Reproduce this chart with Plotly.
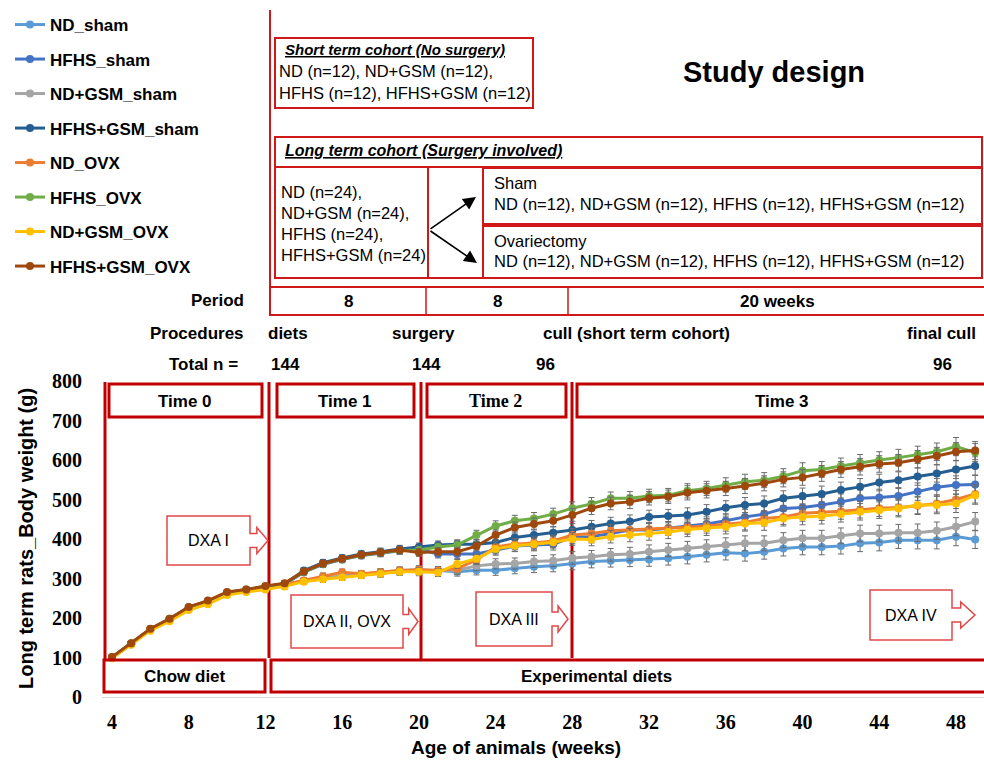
import plotly.graph_objects as go

# the page body margin is removed (post_script) so figure pixels = window pixels
W, H = 984, 764


def PX(x):
    return x / W


def PY(y):
    return 1 - y / H


# ---------------- data ----------------
weeks = list(range(4, 50))

nd_sham = [100, 134, 170, 196, 224, 240, 262, 269, 276, 284, 293, 300, 305, 309, 313, 318, 320,
           320, 317, 321, 321, 326, 330, 332, 338, 343, 345, 347, 348, 351, 355, 360, 365, 363, 368,
           376, 380, 380, 382, 389, 391, 397, 397, 397, 406, 399]
hfhs_sham = [100, 135, 171, 196, 225, 241, 263, 270, 278, 285, 316, 336, 348, 358, 364, 370, 374,
             362, 362, 362, 372, 382, 385, 387, 404, 406, 414, 423, 423, 427, 433, 438, 446, 456, 463,
             477, 480, 486, 494, 503, 505, 509, 520, 531, 537, 538]
ndgsm_sham = [99, 133, 170, 195, 223, 239, 261, 268, 276, 284, 294, 301, 306, 311, 315, 320, 322,
              320, 321, 332, 337, 338, 343, 345, 352, 355, 360, 362, 368, 372, 376, 380, 385, 389, 389,
              397, 402, 402, 408, 414, 414, 416, 416, 421, 431, 444]
hfhsgsm_sham = [100, 135, 172, 197, 226, 242, 264, 271, 279, 286, 320, 340, 352, 362, 368, 375, 380,
                385, 387, 387, 391, 404, 410, 416, 423, 431, 439, 444, 456, 458, 461, 469, 479, 486, 490,
                503, 509, 514, 524, 532, 543, 549, 558, 566, 576, 585]
nd_ovx = [100, 134, 171, 194, 223, 240, 262, 269, 277, 285, 295, 306, 316, 312, 316, 320, 322,
          320, 325, 347, 380, 387, 390, 395, 410, 414, 421, 423, 425, 427, 430, 433, 438, 442, 452,
          456, 465, 467, 470, 474, 478, 480, 484, 490, 500, 514]
hfhs_ovx = [100, 136, 172, 198, 227, 243, 265, 272, 280, 287, 317, 337, 349, 359, 365, 371, 372,
            380, 385, 410, 433, 446, 452, 463, 478, 489, 503, 503, 509, 511, 522, 528, 537, 545, 549,
            559, 573, 576, 585, 593, 600, 606, 613, 621, 634, 619]
ndgsm_ovx = [98, 132, 168, 192, 220, 235, 258, 266, 272, 280, 292, 298, 303, 308, 312, 317, 317,
             315, 337, 350, 375, 383, 387, 392, 400, 399, 406, 410, 414, 418, 424, 427, 431, 439, 441,
             452, 456, 458, 463, 469, 473, 477, 486, 486, 490, 511]
hfhsgsm_ovx = [101, 136, 173, 198, 228, 244, 266, 272, 281, 288, 318, 338, 350, 360, 366, 372, 366,
               368, 368, 382, 410, 429, 438, 446, 461, 478, 490, 494, 503, 507, 517, 522, 528, 534, 541,
               551, 556, 566, 576, 583, 590, 593, 602, 610, 621, 624]

sem = [3, 4, 4, 5, 5, 5, 6, 6, 6,
       7, 7, 8, 8, 8, 9, 9, 10,
       10, 11, 12, 13, 14, 15, 15, 16,
       16, 16, 17, 17, 17, 18, 18, 18, 19, 19, 19, 20, 20, 20, 21, 21, 21, 22, 22, 23, 23]

series_names = ["ND_sham", "HFHS_sham", "ND+GSM_sham", "HFHS+GSM_sham",
                "ND_OVX", "HFHS_OVX", "ND+GSM_OVX", "HFHS+GSM_OVX"]
series_values = [nd_sham, hfhs_sham, ndgsm_sham, hfhsgsm_sham,
                 nd_ovx, hfhs_ovx, ndgsm_ovx, hfhsgsm_ovx]
series_colors = ["#5B9BD5", "#4472C4", "#A5A5A5", "#255E91",
                 "#ED7D31", "#70AD47", "#FFC000", "#9E480E"]

x_ticks = [4, 8, 12, 16, 20, 24, 28, 32, 36, 40, 44, 48]

# ---------------- figure ----------------
fig = go.Figure()
for name, vals, col in zip(series_names, series_values, series_colors):
    fig.add_trace(go.Scatter(
        x=weeks, y=vals, mode="lines+markers", name=name, legendgroup=name,
        line=dict(color=col, width=3),
        marker=dict(color=col, size=8),
        error_y=dict(type="data", array=sem, color="#6b6b6b", thickness=1, width=3),
    ))

SANS = "Liberation Sans, Arial, sans-serif"
SERIF = "Liberation Serif, Times New Roman, serif"
RED = "#C00000"
RED2 = "#D01818"
RED3 = "#E04848"

shapes = []
annots = []


def rect(x0, y0, x1, y1, color=RED, width=3, layer="above"):
    shapes.append(dict(type="rect", xref="paper", yref="paper",
                       x0=PX(x0), x1=PX(x1), y0=PY(y0), y1=PY(y1),
                       line=dict(color=color, width=width),
                       fillcolor="rgba(0,0,0,0)", layer=layer))


def hline(x0, x1, y, color=RED, width=3, layer="above"):
    shapes.append(dict(type="line", xref="paper", yref="paper",
                       x0=PX(x0), x1=PX(x1), y0=PY(y), y1=PY(y),
                       line=dict(color=color, width=width), layer=layer))


def vline(x, y0, y1, color=RED, width=3, layer="above"):
    shapes.append(dict(type="line", xref="paper", yref="paper",
                       x0=PX(x), x1=PX(x), y0=PY(y0), y1=PY(y1),
                       line=dict(color=color, width=width), layer=layer))


def text(x, y, s, size=16, family=SANS, xanchor="center", color="black", angle=0):
    annots.append(dict(x=PX(x), y=PY(y), xref="paper", yref="paper", text=s,
                       showarrow=False, xanchor=xanchor, yanchor="middle",
                       textangle=angle,
                       font=dict(family=family, size=size, color=color)))


def callout(x0, y0, x1, y1, tip, label):
    ym = (y0 + y1) / 2
    sh, hh = 7, 13
    se = x1 + (tip - x1) * 0.38
    pts = [(x0, y0), (x1, y0), (x1, ym - sh), (se, ym - sh), (se, ym - hh), (tip, ym),
           (se, ym + hh), (se, ym + sh), (x1, ym + sh), (x1, y1), (x0, y1)]
    path = "M " + " L ".join(f"{PX(a):.5f},{PY(b):.5f}" for a, b in pts) + " Z"
    shapes.append(dict(type="path", xref="paper", yref="paper", path=path,
                       line=dict(color=RED3, width=1.5), fillcolor="white", layer="above"))
    text((x0 + x1) / 2, ym, label, size=16)


# ---- study design diagram ----
vline(270, 10, 287, color=RED2, width=2)
rect(275, 38, 533, 108, color=RED2, width=2)
text(283, 49, "<b><i><u>Short term cohort (No surgery)</u></i></b>", size=15, xanchor="left")
text(277, 71, "ND (n=12), ND+GSM (n=12),", size=16.5, xanchor="left")
text(277, 93, "HFHS (n=12), HFHS+GSM (n=12)", size=16.5, xanchor="left")
text(774, 72, "<b>Study design</b>", size=29)

rect(275, 137, 982, 278, color=RED2, width=2)
hline(275, 982, 167, color=RED2, width=2)
text(283, 150, "<b><i><u>Long term cohort (Surgery involved)</u></i></b>", size=16, xanchor="left")
rect(275, 167, 428, 278, color=RED2, width=2)
for i, s in enumerate(["ND (n=24),", "ND+GSM (n=24),", "HFHS (n=24),", "HFHS+GSM (n=24)"]):
    text(279, 192 + 21 * i, s, size=16.5, xanchor="left")
rect(483, 168, 982, 224, color=RED2, width=2)
rect(483, 226, 982, 278, color=RED2, width=2)
text(492, 183, "Sham", size=16.5, xanchor="left")
text(492, 204, "ND (n=12), ND+GSM (n=12), HFHS (n=12), HFHS+GSM (n=12)", size=16.5, xanchor="left")
text(492, 241, "Ovariectomy", size=16.5, xanchor="left")
text(492, 261, "ND (n=12), ND+GSM (n=12), HFHS (n=12), HFHS+GSM (n=12)", size=16.5, xanchor="left")
for hx, hy in [(476, 197), (477, 263)]:
    annots.append(dict(x=PX(hx), y=PY(hy), xref="paper", yref="paper", text="",
                       showarrow=True, ax=429 - hx, ay=230 - hy, axref="pixel", ayref="pixel",
                       arrowhead=2, arrowsize=1.6, arrowwidth=1.6, arrowcolor="black"))

# period row
rect(270, 287, 986, 315, color=RED2, width=2)
vline(426, 287, 315, color=RED2, width=1.5)
vline(568, 287, 315, color=RED2, width=1.5)
text(246, 300, "<b>Period</b>", size=17, xanchor="right")
text(348, 301, "<b>8</b>", size=17)
text(497, 301, "<b>8</b>", size=17)
text(777, 301, "<b>20 weeks</b>", size=17)

text(246, 333, "<b>Procedures</b>", size=17, xanchor="right")
text(288, 333, "<b>diets</b>", size=17)
text(423, 333, "<b>surgery</b>", size=17)
text(636, 333, "<b>cull (short term cohort)</b>", size=17)
text(941, 333, "<b>final cull</b>", size=17)

text(240, 365, "<b>Total n =</b>", size=17, xanchor="right")
text(285, 365, "<b>144</b>", size=17)
text(426, 365, "<b>144</b>", size=17)
text(545, 365, "<b>96</b>", size=17)
text(942, 365, "<b>96</b>", size=17)

# ---- plot-area boxes ----
vline(105, 382, 660, layer="below")
vline(269, 382, 658, layer="below")
vline(421, 382, 660, layer="below")
vline(572, 382, 658, layer="below")
rect(109, 384, 262, 417)
rect(277, 384, 414, 417)
rect(427, 384, 566, 417)
rect(577, 384, 986, 417)
text(185, 401, "<b>Time 0</b>", size=17)
text(345, 401, "<b>Time 1</b>", size=17)
text(496, 401, "<b>Time 2</b>", size=18, family=SERIF)
text(782, 401, "<b>Time 3</b>", size=17)
rect(104, 660, 265, 692)
rect(271, 660, 986, 692)
text(185, 676, "<b>Chow diet</b>", size=17)
text(596, 676, "<b>Experimental diets</b>", size=17)

callout(167, 516, 250, 565, 268, "DXA I")
callout(291, 595, 403, 648, 418, "DXA II, OVX")
callout(476, 592, 552, 646, 568, "DXA III")
callout(870, 590, 952, 640, 975, "DXA IV")

# axis titles
text(26, 539, "<b>Long term rats_Body weight (g)</b>", size=20, angle=-90)
text(516, 747, "<b>Age of animals (weeks)</b>", size=19)

fig.update_layout(
    width=W, height=H,
    margin=dict(l=0, r=0, t=0, b=0, autoexpand=False),
    paper_bgcolor="white", plot_bgcolor="white",
    xaxis=dict(domain=[PX(102), 1], range=[3.48, 49.46], tickvals=x_ticks,
               showgrid=False, zeroline=False, showline=True, linecolor="#d9d9d9", linewidth=1,
               ticks="", ticklabelstandoff=7, automargin=False,
               tickfont=dict(family=SERIF, size=20, color="black", weight="bold")),
    yaxis=dict(domain=[PY(697), PY(381)], range=[0, 800], dtick=100,
               showgrid=False, zeroline=False, showline=False, ticks="",
               ticklabelstandoff=19, automargin=False,
               tickfont=dict(family=SERIF, size=20, color="black", weight="bold")),
    legend=dict(x=PX(10), y=PY(7), xanchor="left", yanchor="top",
                font=dict(family=SANS, size=17, color="black", weight="bold"),
                tracegroupgap=9.4, bgcolor="rgba(0,0,0,0)", itemwidth=30),
    showlegend=True,
    shapes=shapes,
    annotations=annots,
)

fig.write_html("out.html", config={"displayModeBar": False},
               post_script="document.body.style.margin='0';document.body.style.overflow='hidden';")
